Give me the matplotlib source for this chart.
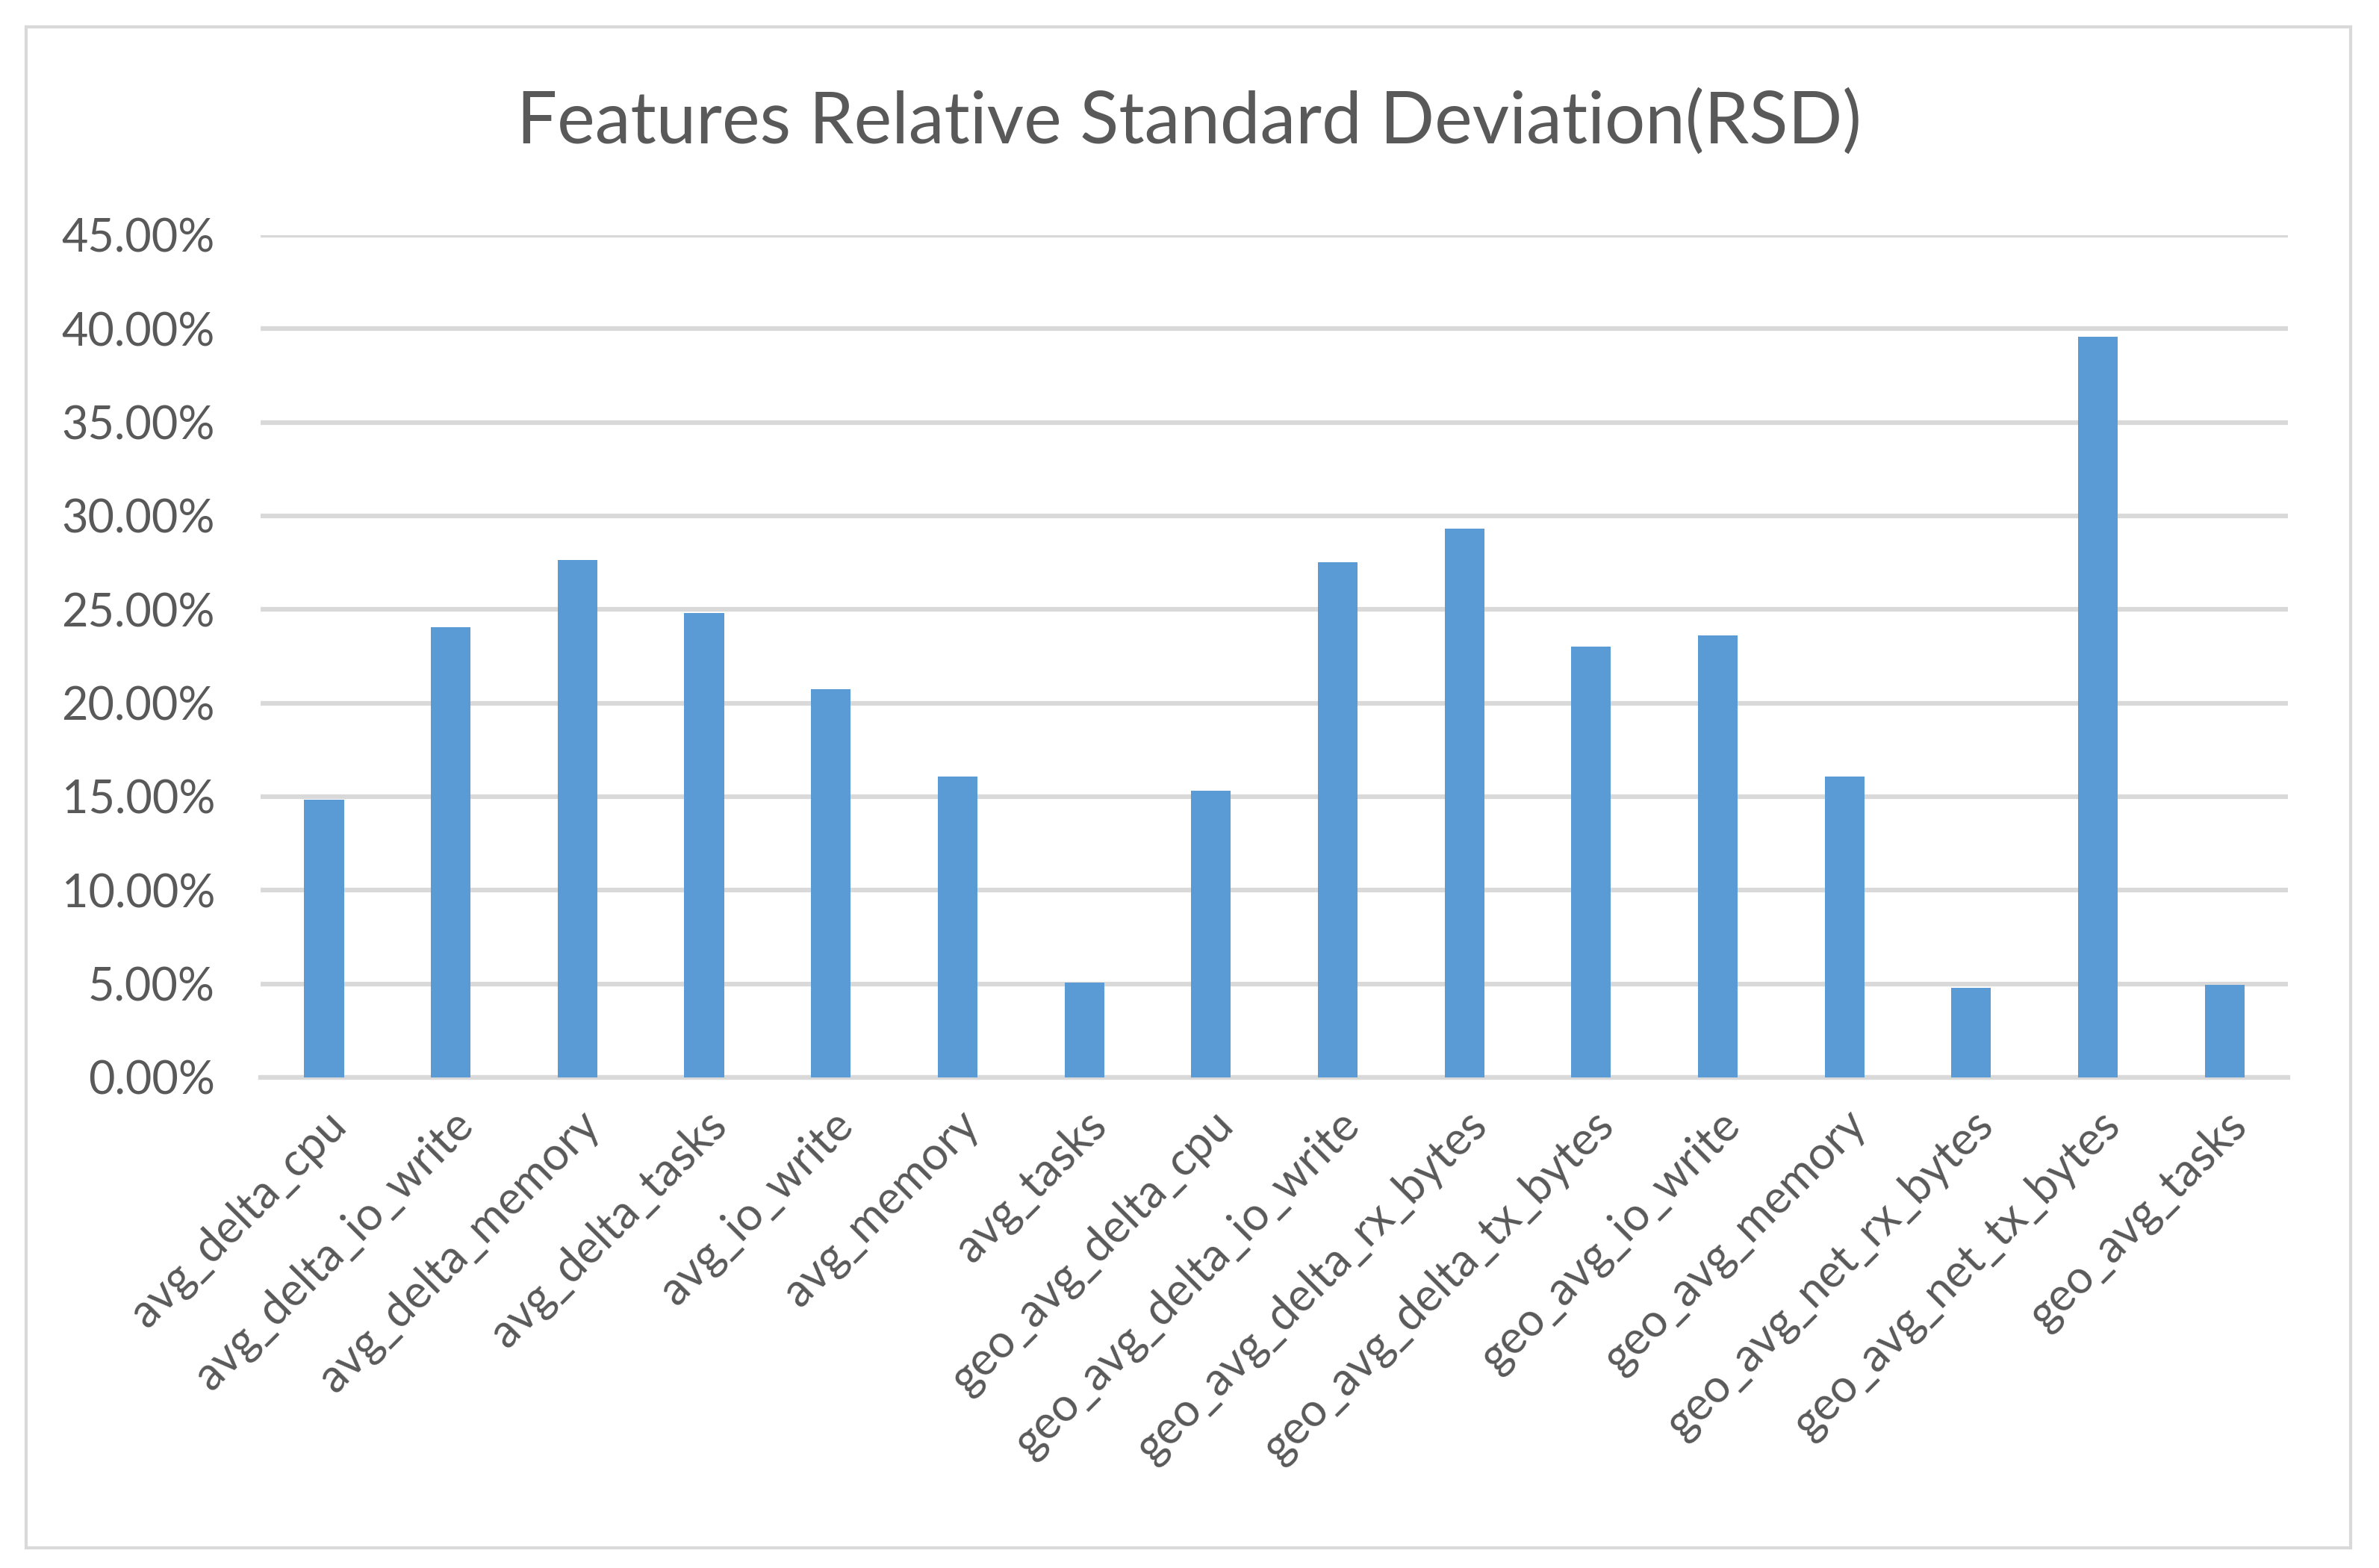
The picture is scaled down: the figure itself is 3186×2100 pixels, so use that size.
import matplotlib
matplotlib.use("Agg")
import matplotlib.pyplot as plt
from matplotlib.patches import Rectangle
from matplotlib.ticker import FuncFormatter

# features and their RSD (%)
features = ["avg_delta_cpu", "avg_delta_io_write", "avg_delta_memory", "avg_delta_tasks",
            "avg_io_write", "avg_memory", "avg_tasks", "geo_avg_delta_cpu",
            "geo_avg_delta_io_write", "geo_avg_delta_rx_bytes", "geo_avg_delta_tx_bytes",
            "geo_avg_io_write", "geo_avg_memory", "geo_avg_net_rx_bytes",
            "geo_avg_net_tx_bytes", "geo_avg_tasks"]
rsd = [14.85, 24.06, 27.66, 24.82, 20.75, 16.06, 5.07, 15.30,
       27.53, 29.32, 23.01, 23.61, 16.06, 4.78, 39.58, 4.94]
y_ticks = [0, 5, 10, 15, 20, 25, 30, 35, 40, 45]

plt.rcParams['font.family'] = ['Lato', 'DejaVu Sans']
txt = '#595959'
grid = '#D9D9D9'

fig = plt.figure(figsize=(31.86, 21.0), dpi=100)
fig.patches.append(Rectangle((0.011, 0.013), 0.977, 0.970, transform=fig.transFigure,
                             fill=False, edgecolor=grid, linewidth=3))
ax = fig.add_axes([0.1096, 0.3129, 0.8521, 0.5371])

x = range(len(features))
ax.bar(x, rsd, width=0.313, color='#5B9BD5', zorder=3)

ax.set_xlim(-0.5, len(features) - 0.5)
ax.set_ylim(0, 45)
ax.set_yticks(y_ticks)
ax.yaxis.set_major_formatter(FuncFormatter(lambda v, p: f"{v:.2f}%"))
ax.grid(axis='y', color=grid, linewidth=4.5, zorder=0)
for s in ['top', 'right', 'left']:
    ax.spines[s].set_visible(False)
ax.spines['bottom'].set_color(grid)
ax.spines['bottom'].set_linewidth(4.5)
ax.tick_params(axis='both', length=0, labelsize=44, labelcolor=txt)
ax.tick_params(axis='y', pad=44)
ax.set_xticks(list(x))
ax.set_xticklabels(features, rotation=45, ha='right', rotation_mode='anchor')
ax.tick_params(axis='x', pad=25)

fig.text(0.5, 0.922, "Features Relative Standard Deviation(RSD)", ha='center', va='center',
         fontsize=69, color=txt)

fig.savefig("out.png", dpi=100)
